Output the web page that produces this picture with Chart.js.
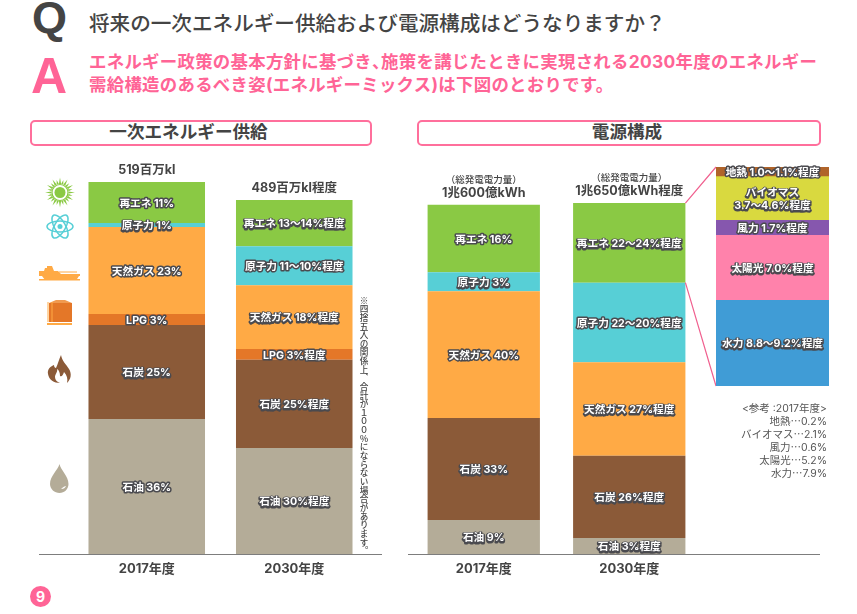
<!DOCTYPE html>
<html lang="ja">
<head>
<meta charset="utf-8">
<title>一次エネルギー供給および電源構成</title>
<script src="https://cdn.jsdelivr.net/npm/chart.js@4"></script>
<style>
  html, body { margin: 0; padding: 0; background: #fff; }
  body { position: relative; width: 857px; height: 614px; overflow: hidden; font-family: Inter, "Noto Sans CJK JP", "Noto Sans", sans-serif; color: #444; }
  canvas { position: absolute; }
  .abs { position: absolute; white-space: nowrap; line-height: 1; }
  .big { font-family: "Liberation Sans", sans-serif; font-weight: 700; }
  .answer { left: 89px; font-size: 17.4px; font-weight: 700; color: #ff6496; letter-spacing: .3px; }
  .comma { font-family: "Noto Sans CJK JP"; font-feature-settings: 'palt'; line-height: 0; }
  .box { position: absolute; box-sizing: border-box; height: 26px; top: 120px; border: 2px solid #ff6f9c; border-radius: 5px; text-align: center; font-weight: 700; font-size: 17.6px; line-height: 20px; }
  .note { position: absolute; left: 359px; top: 296px; writing-mode: vertical-rl; font-family: "Noto Sans CJK JP", sans-serif; font-size: 8.65px; line-height: 10px; font-weight: 500; white-space: nowrap; }
  .ref { position: absolute; right: 30px; top: 402px; text-align: right; font-size: 10.5px; color: #555; white-space: nowrap; }
  .ref div { height: 13px; line-height: 13px; }
  .ref span { font-family: "Noto Sans CJK JP"; line-height: 0; }
  .page { position: absolute; left: 30px; top: 586px; width: 21px; height: 21px; border-radius: 50%; background: #ff6496; color: #fff; font-weight: 700; font-size: 14px; line-height: 21px; text-align: center; }
  svg { position: absolute; left: 0; top: 0; }
</style>
</head>
<body>

<div class="abs big" style="left:32px;top:-5px;color:#444;font-size:45px;">Q</div>
<div class="abs big" style="left:31px;top:51px;color:#ff6496;font-size:50px;">A</div>
<div class="abs" style="left:89px;top:14px;font-size:20.6px;font-weight:500;">将来の一次エネルギー供給および電源構成はどうなりますか？</div>
<div class="abs answer" style="top:53px;">エネルギー政策の基本方針に基づき<span class="comma">、</span>施策を講じたときに実現される2030年度のエネルギー</div>
<div class="abs answer" style="top:76px;">需給構造のあるべき姿(エネルギーミックス)は下図のとおりです。</div>

<div class="box" style="left:30px;width:342px;padding-right:25px;">一次エネルギー供給</div>
<div class="box" style="left:417px;width:404px;padding-left:16px;">電源構成</div>

<!-- 左の列のアイコン -->
<svg width="100" height="510" viewBox="0 0 100 510">
  <g fill="#8ac944">
    <circle cx="60" cy="192.500" r="5.500"/>
    <circle cx="60" cy="192.500" r="8" fill="none" stroke="#8ac944" stroke-width="1.200"/>
    <g id="rays"></g>
  </g>
  <g fill="none" stroke="#57cfd6" stroke-width="1.500">
    <ellipse cx="60" cy="226.500" rx="13" ry="5.500"/>
    <ellipse cx="60" cy="226.500" rx="13" ry="5.500" transform="rotate(60 60 226.500)"/>
    <ellipse cx="60" cy="226.500" rx="13" ry="5.500" transform="rotate(120 60 226.500)"/>
  </g>
  <circle cx="60" cy="226.500" r="2.500" fill="#57cfd6"/>
  <path d="M39 271h5l1-3h2l0-2h5l2 5h4l3 3h19v2h-1l-2 3 -1 1H45l-3-4h-3z" fill="#ffaa45"/>
  <path d="M39 279h41v1.500H39z" fill="#ffaa45"/>
  <path d="M59 272h18M43 274h10" stroke="#ffaa45" stroke-width="1" fill="none"/>
  <path d="M49 303h23v19H49z" fill="#e47728"/>
  <path d="M49 303l7-3h9l7 3z" fill="#f09a50"/>
  <path d="M48 302v20M52 302v20" stroke="#ffaa45" stroke-width="1" fill="none"/>
  <path d="M47 323h25v2H47z" fill="#ffaa45"/>
  <path d="M61 355c1 6 5 9 8 14 3 5 2 10-2 14 1-4 0-8-3-11-1 3-2 5-4 4 0-3-1-6-3-7 1 3-2 5-2 8 0 3 2 5 5 6-6 0-11-3-12-9-1-5 3-8 6-9 0 2 1 3 2 3 2-4 3-9 5-13z" fill="#8b5a38"/>
  <path d="M59.500 464c1 6 9 12 9 20 0 5-4 9-9 9s-9.500-4-9.500-9c0-8 8-14 9.500-20z" fill="#b4ac98"/>
  <path d="M61 489c3 0 4-1 5-3-1 0-3 1-5 3z" fill="#fff"/>
</svg>

<canvas id="primaryChart" width="343" height="430" style="left:39px;top:154px;"></canvas>
<canvas id="powerChart" width="412" height="430" style="left:408px;top:154px;"></canvas>
<canvas id="renewChart" width="113" height="231" style="left:716px;top:155px;"></canvas>

<div class="note">※四捨五入の関係上、合計が１００％にならない場合があります。</div>
<div class="ref">
  <div>&lt;参考 :2017年度&gt;</div>
  <div>地熱<span>…</span>0.2%</div>
  <div>バイオマス<span>…</span>2.1%</div>
  <div>風力<span>…</span>0.6%</div>
  <div>太陽光<span>…</span>5.2%</div>
  <div>水力<span>…</span>7.9%</div>
</div>
<div class="page">9</div>

<script>
var fiscalYears = ['2017年度', '2030年度'];

// 下から積む順
var primarySources = ['石油', '石炭', 'LPG', '天然ガス', '原子力', '再エネ'];
var primary2017 = [188.3, 131.1, 15.3, 121.4, 5.6, 57.2];
var primary2030 = [147.9, 123.2, 14.9, 88.9, 54.4, 64.6];
var primaryColors = ['#b4ac98', '#8b5a38', '#e47728', '#ffaa45', '#57cfd6', '#8ac944'];
var primaryLabels2017 = ['石油 36%', '石炭 25%', 'LPG 3%', '天然ガス 23%', '原子力 1%', '再エネ 11%'];
var primaryLabels2030 = ['石油 30%程度', '石炭 25%程度', 'LPG 3%程度', '天然ガス 18%程度', '原子力 11～10%程度', '再エネ 13～14%程度'];
var primaryTotals = [['519百万kl'], ['489百万kl程度']];

var powerSources = ['石油', '石炭', '天然ガス', '原子力', '再エネ'];
var power2017 = [1032, 3096, 3845, 577, 2052];
var power2030 = [486, 2498, 2834, 2416, 2418];
var powerColors = ['#b4ac98', '#8b5a38', '#ffaa45', '#57cfd6', '#8ac944'];
var powerLabels2017 = ['石油 9%', '石炭 33%', '天然ガス 40%', '原子力 3%', '再エネ 16%'];
var powerLabels2030 = ['石油 3%程度', '石炭 26%程度', '天然ガス 27%程度', '原子力 22～20%程度', '再エネ 22～24%程度'];
var powerTotals = [['（総発電電力量）', '1兆600億kWh'], ['（総発電電力量）', '1兆650億kWh程度']];

var renewSources = ['水力', '太陽光', '風力', 'バイオマス', '地熱'];
var renewValues = [8.96, 6.8, 1.57, 4.57, 1.0];
var renewColors = ['#409cd6', '#ff82ab', '#8657ae', '#d9d93f', '#b0642a'];
var renewLabels = ['水力 8.8～9.2%程度', '太陽光 7.0%程度', '風力 1.7%程度', 'バイオマス\n3.7～4.6%程度', '地熱 1.0～1.1%程度'];

var fontName = 'Inter, "Noto Sans CJK JP", "Noto Sans", sans-serif';

// 太陽の光線
var rays = '';
for (var r = 0; r < 24; r++) {
  rays += '<path d="M58.900 184L60 ' + (r % 2 ? 179.500 : 177.500) + 'L61.100 184z" transform="rotate(' + (r * 15) + ' 60 192.500)"/>';
}
document.getElementById('rays').innerHTML = rays;

// 棒の中のラベル（白文字＋濃い縁取り）
var segmentLabelPlugin = {
  id: 'segmentLabels',
  afterDatasetsDraw: function (chart) {
    var ctx = chart.ctx;
    ctx.save();
    ctx.font = '700 10.7px ' + fontName;
    ctx.textAlign = 'center';
    ctx.textBaseline = 'middle';
    ctx.lineJoin = 'round';
    chart.data.datasets.forEach(function (ds, i) {
      chart.getDatasetMeta(i).data.forEach(function (bar, j) {
        var lines = ds.segmentLabels[j].split('\n');
        var cy = (bar.y + bar.base) / 2 + 1;
        lines.forEach(function (line, k) {
          var y = cy + (k - (lines.length - 1) / 2) * 13;
          ctx.lineWidth = 3;
          ctx.strokeStyle = '#4a4a4f';
          ctx.strokeText(line, bar.x, y + 0.5);
          ctx.fillStyle = '#fff';
          ctx.fillText(line, bar.x, y);
        });
      });
    });
    ctx.restore();
  }
};

// 棒の上の合計ラベルと基線
var totalsPlugin = {
  id: 'totals',
  afterDraw: function (chart, args, opts) {
    var ctx = chart.ctx;
    var base = chart.scales.y.getPixelForValue(0);
    ctx.save();
    ctx.strokeStyle = '#7d7d7d';
    ctx.lineWidth = 1;
    ctx.beginPath();
    ctx.moveTo(0, base + 0.5);
    ctx.lineTo(chart.width, base + 0.5);
    ctx.stroke();
    ctx.textAlign = 'center';
    ctx.textBaseline = 'alphabetic';
    ctx.fillStyle = '#444';
    var last = chart.data.datasets.length - 1;
    chart.getDatasetMeta(last).data.forEach(function (bar, j) {
      var lines = opts.lines[j];
      lines.forEach(function (line, k) {
        var fromBottom = lines.length - 1 - k;
        ctx.font = (fromBottom > 0 ? '500 9.5px ' : '700 12.500px ') + fontName;
        ctx.fillText(line, bar.x, bar.y - 8 - fromBottom * 14);
      });
    });
    ctx.restore();
  }
};

// 再エネの棒から内訳の棒へ引く線
var connectorPlugin = {
  id: 'connector',
  afterDraw: function (chart) {
    var ctx = chart.ctx;
    var chartBox = chart.canvas.getBoundingClientRect();
    var detail = renewChart;
    var detailBox = detail.canvas.getBoundingClientRect();
    var bar = chart.getDatasetMeta(chart.data.datasets.length - 1).data[1];
    var x1 = bar.x + bar.width / 2;
    var x2 = detailBox.left - chartBox.left + detail.chartArea.left;
    var shift = detailBox.top - chartBox.top;
    var yTop = shift + detail.scales.y.getPixelForValue(detail.scales.y.max);
    var yBottom = shift + detail.scales.y.getPixelForValue(0);
    ctx.save();
    ctx.strokeStyle = '#f0608f';
    ctx.lineWidth = 1.2;
    ctx.beginPath();
    ctx.moveTo(x1, bar.y);
    ctx.lineTo(x2, yTop);
    ctx.moveTo(x1, bar.base);
    ctx.lineTo(x2, yBottom);
    ctx.stroke();
    ctx.restore();
  }
};

function stackDatasets(names, colors, first, second, firstLabels, secondLabels) {
  return names.map(function (name, i) {
    return {
      label: name,
      data: [first[i], second[i]],
      backgroundColor: colors[i],
      segmentLabels: [firstLabels[i], secondLabels[i]],
      stack: 'mix'
    };
  });
}

function stackedOptions(yMax, padLeft, padRight, barPct, totals) {
  return {
    responsive: false,
    animation: false,
    devicePixelRatio: 1,
    layout: { padding: { left: padLeft, right: padRight, top: 0, bottom: 0 } },
    datasets: { bar: { barPercentage: barPct, categoryPercentage: 1 } },
    scales: {
      x: {
        stacked: true,
        grid: { display: false, drawTicks: false },
        border: { display: false },
        afterFit: function (axis) { axis.height = 30; },
        ticks: { color: '#444', padding: 7, maxRotation: 0, font: { family: fontName, size: 13, weight: '700' } }
      },
      y: { stacked: true, display: false, min: 0, max: yMax }
    },
    plugins: {
      legend: { display: false },
      tooltip: { enabled: false },
      totals: { lines: totals }
    }
  };
}

var renewChart = new Chart(document.getElementById('renewChart').getContext('2d'), {
  type: 'bar',
  plugins: [segmentLabelPlugin],
  data: {
    labels: ['再エネ内訳'],
    datasets: renewSources.map(function (name, i) {
      return { label: name, data: [renewValues[i]], backgroundColor: renewColors[i], segmentLabels: [renewLabels[i]], stack: 'mix' };
    })
  },
  options: {
    responsive: false,
    animation: false,
    devicePixelRatio: 1,
    layout: { padding: { top: 12 } },
    datasets: { bar: { barPercentage: 1, categoryPercentage: 1 } },
    scales: {
      x: { stacked: true, display: false },
      y: { stacked: true, display: false, min: 0, max: 22.9 }
    },
    plugins: { legend: { display: false }, tooltip: { enabled: false } }
  }
});

var primaryChart = new Chart(document.getElementById('primaryChart').getContext('2d'), {
  type: 'bar',
  plugins: [segmentLabelPlugin, totalsPlugin],
  data: {
    labels: fiscalYears,
    datasets: stackDatasets(primarySources, primaryColors, primary2017, primary2030, primaryLabels2017, primaryLabels2030)
  },
  options: stackedOptions(558, 34, 14, 0.79, primaryTotals)
});

var powerChart = new Chart(document.getElementById('powerChart').getContext('2d'), {
  type: 'bar',
  plugins: [segmentLabelPlugin, totalsPlugin, connectorPlugin],
  data: {
    labels: fiscalYears,
    datasets: stackDatasets(powerSources, powerColors, power2017, power2030, powerLabels2017, powerLabels2030)
  },
  options: stackedOptions(12140, 3, 118, 0.772, powerTotals)
});
</script>
</body>
</html>
